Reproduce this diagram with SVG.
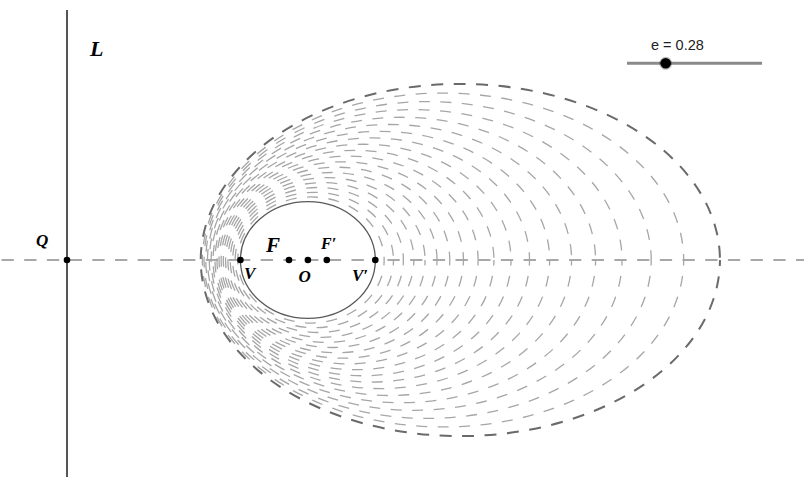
<svg xmlns="http://www.w3.org/2000/svg" width="804" height="477" viewBox="0 0 804 477">
  <style>
    .fam { fill: none; stroke: #a6a6a6; stroke-width: 1.3; stroke-dasharray: 11 10.5; stroke-dashoffset: 5.5; }
    .outer { fill: none; stroke: #6a6a6a; stroke-width: 2; stroke-dasharray: 12 10.5; stroke-dashoffset: 6; }
    .axis { stroke: #a8a8a8; stroke-width: 2; stroke-dasharray: 12.3 10.4; }
    .pt { fill: #000; }
    .lbl { font-family: "Liberation Serif", "DejaVu Serif", serif; font-style: italic; font-weight: bold; fill: #000; }
    .ui { font-family: "Liberation Sans", Arial, sans-serif; fill: #222; }
  </style>
  <rect width="804" height="477" fill="#fff"/>

  <g id="connectors">
    <line id="axis" class="axis" x1="0" y1="260" x2="804" y2="260" stroke-dashoffset="-1.5"/>
    <line id="directrix" x1="67" y1="10" x2="67" y2="477" stroke="#555" stroke-width="2"/>
  </g>

  <g id="family">
    <ellipse class="fam" cx="310.96" cy="260" rx="73.19" ry="63.05"/>
    <ellipse class="fam" cx="314.33" cy="260" rx="79.15" ry="67.72"/>
    <ellipse class="fam" cx="318.02" cy="260" rx="85.35" ry="72.48"/>
    <ellipse class="fam" cx="322.06" cy="260" rx="91.82" ry="77.36"/>
    <ellipse class="fam" cx="326.47" cy="260" rx="98.60" ry="82.36"/>
    <ellipse class="fam" cx="331.29" cy="260" rx="105.72" ry="87.49"/>
    <ellipse class="fam" cx="336.55" cy="260" rx="113.21" ry="92.78"/>
    <ellipse class="fam" cx="342.30" cy="260" rx="121.13" ry="98.22"/>
    <ellipse class="fam" cx="348.58" cy="260" rx="129.53" ry="103.86"/>
    <ellipse class="fam" cx="355.46" cy="260" rx="138.46" ry="109.69"/>
    <ellipse class="fam" cx="363.00" cy="260" rx="148.00" ry="115.74"/>
    <ellipse class="fam" cx="371.28" cy="260" rx="158.23" ry="122.05"/>
    <ellipse class="fam" cx="380.39" cy="260" rx="169.23" ry="128.62"/>
    <ellipse class="fam" cx="390.43" cy="260" rx="181.12" ry="135.50"/>
    <ellipse class="fam" cx="401.54" cy="260" rx="194.03" ry="142.73"/>
    <ellipse class="fam" cx="413.88" cy="260" rx="208.13" ry="150.35"/>
    <ellipse class="fam" cx="427.63" cy="260" rx="223.59" ry="158.41"/>
    <ellipse class="fam" cx="443.02" cy="260" rx="240.65" ry="166.97"/>
    <ellipse class="outer" cx="460.34" cy="260" rx="259.61" ry="176.12"/>
  </g>

  <g id="ellipse">
    <ellipse cx="307.89" cy="260" rx="67.45" ry="58.47" fill="#fff" stroke="#5a5a5a" stroke-width="1.3"/>
    <line x1="242" y1="260" x2="374" y2="260" class="axis" stroke-dashoffset="4"/>
  </g>

  <g id="L"><text class="lbl" x="90" y="56" font-size="22">L</text></g>
  <g id="Q"><circle class="pt" cx="67" cy="260" r="3.3"/><text class="lbl" x="36" y="246" font-size="17">Q</text></g>
  <g id="V"><circle class="pt" cx="240.4" cy="260" r="3.3"/><text class="lbl" x="244" y="279" font-size="17">V</text></g>
  <g id="F"><circle class="pt" cx="289" cy="260" r="3.3"/><text class="lbl" x="266" y="252" font-size="21">F</text></g>
  <g id="O"><circle class="pt" cx="307.9" cy="260" r="3.3"/><text class="lbl" x="298.5" y="282" font-size="17">O</text></g>
  <g id="Fp"><circle class="pt" cx="326.8" cy="260" r="3.3"/><text class="lbl" x="321" y="248.5" font-size="16">F′</text></g>
  <g id="Vp"><circle class="pt" cx="375.3" cy="260" r="3.3"/><text class="lbl" x="352" y="281" font-size="17">V′</text></g>

  <g id="slider">
    <line x1="627" y1="63.3" x2="762" y2="63.3" stroke="#8a8a8a" stroke-width="3"/>
    <circle cx="665.7" cy="63.3" r="6.5" fill="#000" opacity="0.25"/>
    <circle cx="665.7" cy="63.3" r="5.3" fill="#000"/>
    <text class="ui" x="651" y="50" font-size="14.5">e = 0.28</text>
  </g>
</svg>
